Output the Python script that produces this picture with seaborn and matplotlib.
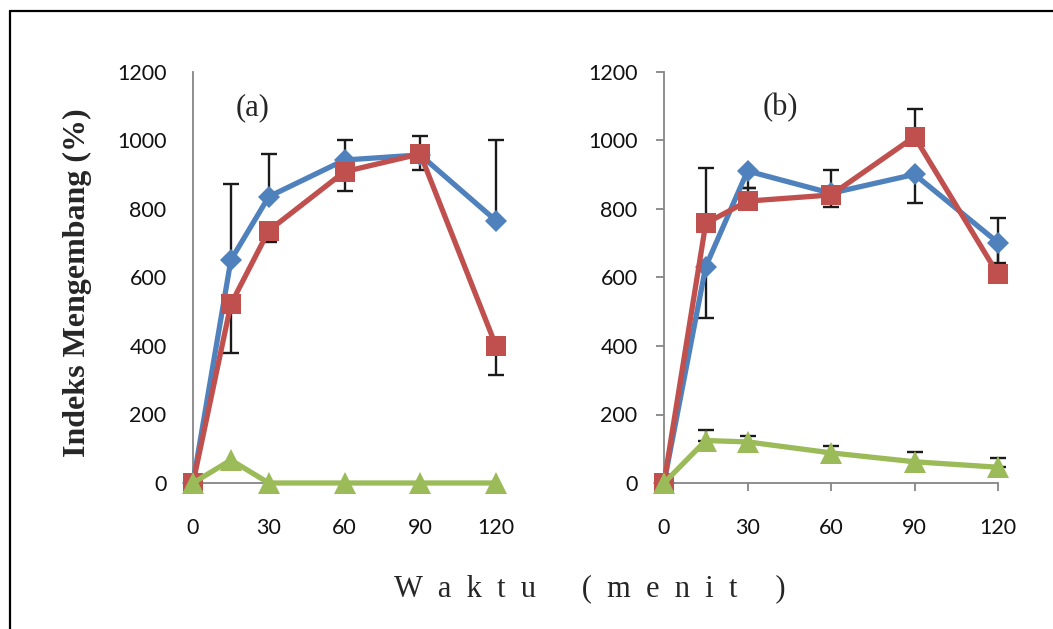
import numpy as np
import pandas as pd
import matplotlib
matplotlib.use("Agg")
import matplotlib.pyplot as plt
import seaborn as sns
from matplotlib.lines import Line2D

# ---------------- data ----------------
time_min = [0, 15, 30, 60, 90, 120]
x_ticks = [0, 30, 60, 90, 120]
y_ticks = [0, 200, 400, 600, 800, 1000, 1200]

# panel (a)
a_blue = [0, 651, 836, 943, 958, 766]
a_blue_err_up = [0, 222, 125, 57, 55, 234]
a_red = [0, 522, 737, 909, 961, 400]
a_red_err_down = [0, 142, 32, 56, 47, 85]
a_green = [0, 67, 0, 0, 0, 0]

# panel (b)
b_blue = [0, 632, 911, 846, 901, 702]
b_blue_err_down = [0, 149, 51, 39, 83, 60]
b_red = [0, 758, 823, 841, 1011, 609]
b_red_err_up = [0, 162, 37, 73, 80, 166]
b_green = [0, 124, 120, 88, 62, 46]
b_green_err_up = [0, 31, 17, 20, 28, 27]

panel_labels = ["(a)", "(b)"]
y_label = "Indeks Mengembang (%)"
x_label = "W  a  k  t  u      (  m  e  n  i  t     )"

BLUE = "#4F81BD"
RED = "#C0504D"
GREEN = "#9BBB59"
AXIS_GREY = "#868686"

sns.set_theme(style="white")
plt.rcParams["font.family"] = ["Lato", "DejaVu Sans"]

fig = plt.figure(figsize=(10.53, 6.29), dpi=100)
W, H = 1053, 629

def px_axes(left, right, top, bottom):
    return fig.add_axes([left / W, 1 - bottom / H, (right - left) / W, (bottom - top) / H])

ax_a = px_axes(193, 496, 72, 483)
ax_b = px_axes(664, 998, 72, 483)

def draw_panel(ax, blue, red, green, err_blue, err_red, err_green, ticks_on):
    # error bars (behind)
    ekw = dict(fmt="none", ecolor="#1a1a1a", elinewidth=1.7, capsize=5.5,
               capthick=1.7, zorder=1, clip_on=False)
    ax.errorbar(time_min, blue, yerr=err_blue, **ekw)
    ax.errorbar(time_min, red, yerr=err_red, **ekw)
    if err_green is not None:
        ax.errorbar(time_min, green, yerr=err_green, **ekw)
    df = pd.DataFrame({"t": time_min, "blue": blue, "red": red, "green": green})
    sns.lineplot(data=df, x="t", y="blue", ax=ax, color=BLUE, linewidth=3.8,
                 marker="D", markersize=11.5, markeredgewidth=0, clip_on=False, zorder=3)
    sns.lineplot(data=df, x="t", y="red", ax=ax, color=RED, linewidth=3.8,
                 marker="s", markersize=14, markeredgewidth=0, clip_on=False, zorder=4)
    sns.lineplot(data=df, x="t", y="green", ax=ax, color=GREEN, linewidth=3.8,
                 marker="^", markersize=15.5, markeredgewidth=0, clip_on=False, zorder=5)
    ax.set_xlim(0, 120)
    ax.set_ylim(0, 1200)
    ax.set_xticks(x_ticks)
    ax.set_yticks(y_ticks)
    ax.set_xticklabels([str(v) for v in x_ticks])
    ax.set_yticklabels([str(v) for v in y_ticks])
    ax.set_xlabel("")
    ax.set_ylabel("")
    for s in ["top", "right"]:
        ax.spines[s].set_visible(False)
    for s in ["left", "bottom"]:
        ax.spines[s].set_color(AXIS_GREY)
        ax.spines[s].set_linewidth(1.3)
    ax.set_facecolor("none")
    ax.grid(False)
    if ticks_on:
        ax.tick_params(axis="both", which="major", direction="out", length=6,
                       width=1.3, color=AXIS_GREY, labelsize=15.5, labelcolor="#111111")
        ax.tick_params(axis="y", pad=13)
        ax.tick_params(axis="x", pad=19)
        ax.tick_params(axis="x", bottom=True)
        ax.tick_params(axis="y", left=True)
    else:
        ax.tick_params(axis="both", which="major", length=0, labelsize=15.5,
                       labelcolor="#111111")
        ax.tick_params(axis="y", pad=19)
        ax.tick_params(axis="x", pad=25)

draw_panel(ax_a, a_blue, a_red, a_green,
           [np.zeros(6), a_blue_err_up], [a_red_err_down, np.zeros(6)], None, False)
draw_panel(ax_b, b_blue, b_red, b_green,
           [b_blue_err_down, np.zeros(6)], [np.zeros(6), b_red_err_up],
           [np.zeros(6), b_green_err_up], True)

serif = ["Liberation Serif", "DejaVu Serif"]
fig.text(253 / W, 1 - 108 / H, panel_labels[0], family=serif, fontsize=22,
         ha="center", va="center")
fig.text(780 / W, 1 - 108 / H, panel_labels[1], family=serif, fontsize=22,
         ha="center", va="center")
fig.text(77 / W, 1 - 283 / H, y_label, family=serif, fontsize=23, fontweight="bold",
         rotation=90, ha="center", va="center")
fig.text(590 / W, 1 - 589 / H, x_label, family=serif, fontsize=22,
         ha="center", va="center")

# outer frame (left and top edges visible)
fig.add_artist(Line2D([9.5 / W, 9.5 / W], [0, 1 - 10.5 / H], transform=fig.transFigure,
                      color="black", linewidth=1.6))
fig.add_artist(Line2D([9.5 / W, 1], [1 - 10.5 / H, 1 - 10.5 / H], transform=fig.transFigure,
                      color="black", linewidth=1.6))

fig.savefig("out.png", dpi=100, facecolor="white")
